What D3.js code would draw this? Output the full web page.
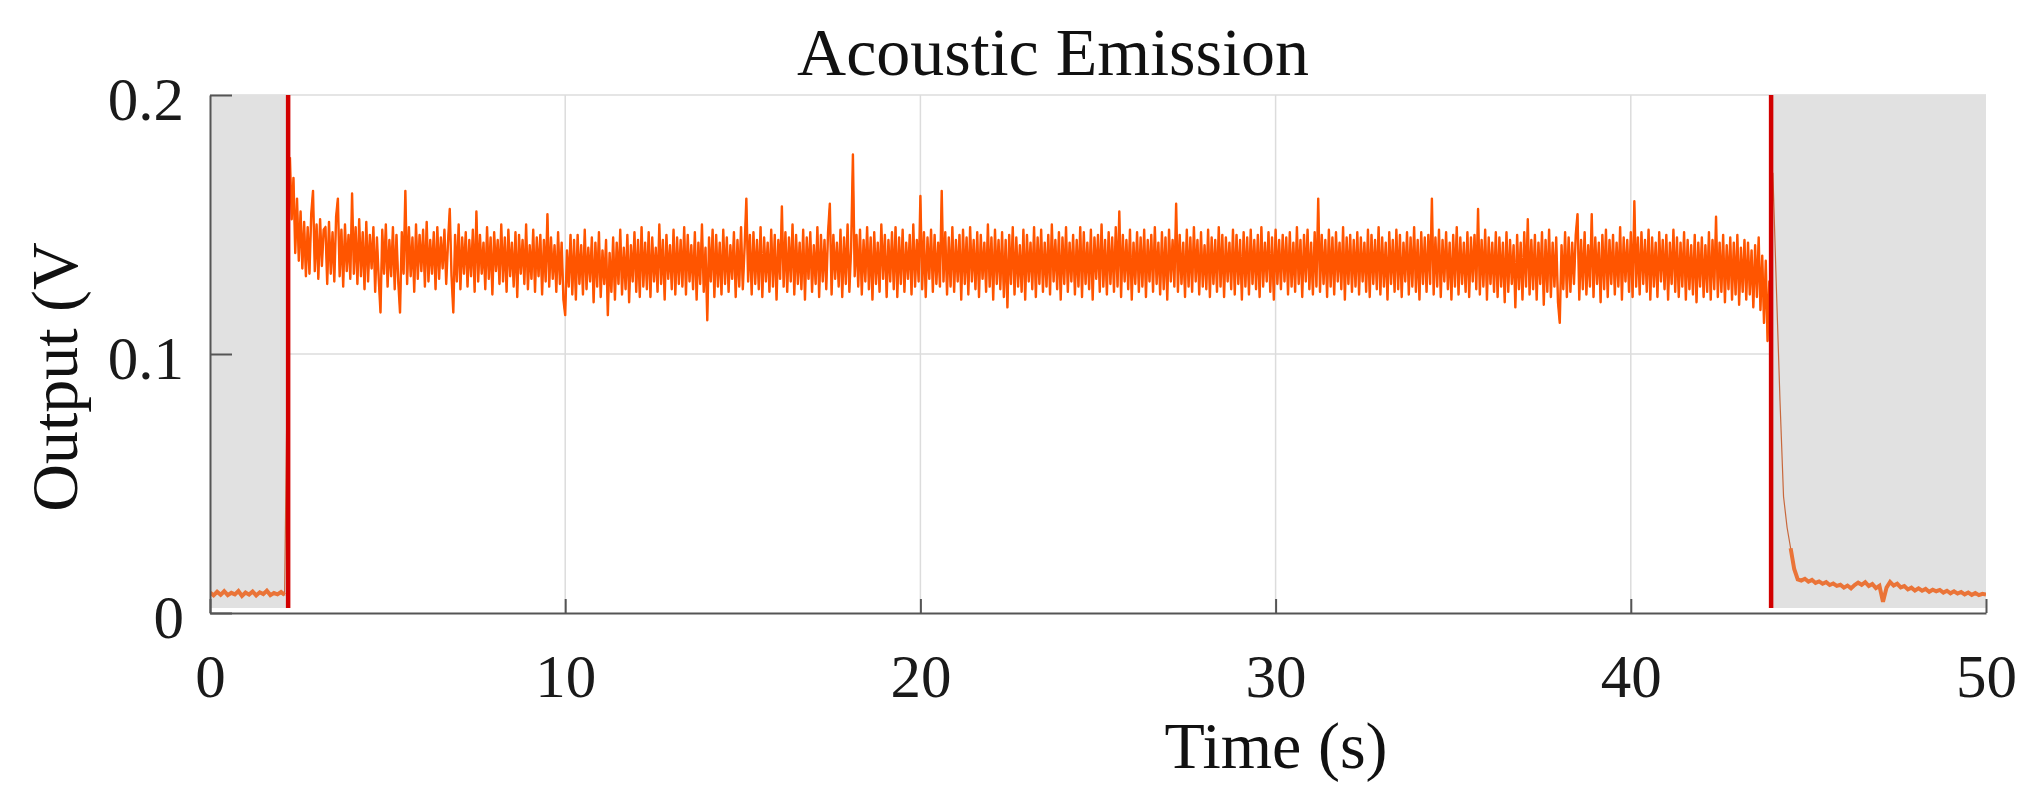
<!DOCTYPE html>
<html><head><meta charset="utf-8">
<script src="https://cdn.jsdelivr.net/npm/d3@7"></script>
<style>html,body{margin:0;padding:0;background:#fff;} svg{display:block;}</style>
</head><body>
<svg id="chart" width="2042" height="810"></svg>
<script>
// ---------------- DATA ----------------
const chartTitle = "Acoustic Emission";
const xAxisTitle = "Time (s)";
const yAxisTitle = "Output (V";
const xTicks = [0, 10, 20, 30, 40, 50];
const xTickLabels = ["0", "10", "20", "30", "40", "50"];
const yTicks = [0, 0.1, 0.2];
const yTickLabels = ["0", "0.1", "0.2"];
const xDomain = [0, 50];
const yDomain = [0, 0.2];
const shadedIntervalsS = [[0, 2.2], [43.95, 50]];
const eventMarkersS = [2.2, 43.95];

// before cutting starts: t = 0 .. 2.1 s, every 0.1 s (mV)
const preOnsetStartS = 0, preOnsetStepS = 0.1;
const preOnsetMilliV = [7.9,6.8,8.2,7.0,8.4,6.9,7.8,7.2,8.5,6.6,7.9,7.1,8.3,6.8,8.0,7.3,8.6,6.9,7.7,7.2,8.1,7.0];

// during cutting: t = 2.25 .. 43.95 s, every 0.05 s (mV)
const cuttingStartS = 2.25, cuttingStepS = 0.05;
const cuttingMilliV = [
176,152,168,139,160,136,155,133,151,130,149,131,154,163,132,150,129,152,134,148,
149,127,151,131,147,128,153,160,130,148,126,150,132,146,129,162,131,149,127,152,
130,147,125,151,128,146,133,149,124,145,129,116,148,131,150,126,144,130,149,125,
146,128,116,147,131,163,127,149,130,145,124,150,129,146,132,148,126,151,128,144,
131,147,125,149,129,145,133,148,127,143,156,130,116,146,128,150,125,145,131,147,
126,144,130,148,124,155,128,146,131,143,125,149,129,145,123,147,132,144,127,150,
128,145,124,148,130,143,126,147,122,146,131,144,127,150,125,142,129,148,124,145,
130,146,123,144,128,154,126,145,129,142,124,147,127,143,121,115,140,126,146,123,
144,121,146,127,142,123,148,125,141,128,145,120,143,126,147,122,140,127,144,115,
139,124,145,121,143,127,148,123,141,125,146,120,142,128,147,124,144,122,149,126,
143,125,147,122,145,128,141,124,150,127,144,121,146,129,142,125,148,123,145,127,
144,126,149,123,146,128,142,125,147,121,143,127,150,124,141,113,145,128,148,122,
146,126,143,123,148,127,145,124,142,129,147,122,144,126,149,125,141,160,128,146,
123,147,127,144,125,149,122,145,128,143,124,148,126,146,121,144,129,157,126,147,
124,145,128,150,123,146,127,143,125,148,121,145,129,147,124,142,127,149,122,146,
128,144,125,147,158,123,146,129,143,126,148,122,145,127,150,124,141,177,130,146,
126,148,123,144,128,149,125,145,121,147,127,143,124,150,129,146,122,144,128,147,
125,149,122,145,127,148,124,143,129,146,123,150,126,144,128,161,125,147,122,145,
129,148,124,146,127,143,126,163,128,147,123,145,126,149,124,144,128,146,121,148,
127,145,123,149,128,144,125,147,122,146,129,143,124,150,126,145,121,148,127,144,
125,147,122,144,118,146,127,149,123,145,126,142,124,148,121,146,128,143,125,149,
122,145,127,148,124,143,126,146,123,150,128,144,125,147,121,145,127,149,124,143,
128,146,123,144,126,149,122,147,127,143,125,148,121,145,129,146,124,150,126,144,
123,147,127,145,124,149,126,155,122,146,128,144,125,148,121,143,127,147,124,145,
126,148,122,144,128,146,124,149,127,143,123,147,125,145,121,148,128,144,126,158,
124,146,127,143,122,148,126,145,124,149,128,144,123,147,126,142,125,148,122,145,
127,144,124,149,126,146,122,145,128,143,125,148,123,146,127,144,121,147,126,145,
123,148,127,144,125,146,122,149,126,143,128,147,124,145,121,148,127,144,125,146,
128,145,123,147,126,143,124,149,127,144,122,146,128,148,125,143,123,147,126,160,
124,146,127,144,122,148,126,145,123,147,128,143,125,149,121,145,127,146,124,144,
126,147,123,145,128,143,124,148,122,146,127,144,125,149,123,145,126,143,121,147,
127,144,124,148,125,146,122,143,128,147,123,145,126,149,124,144,121,147,127,145,
124,146,127,160,123,145,126,148,122,144,128,147,125,143,121,146,126,149,123,145,
127,143,124,147,122,145,128,146,125,156,123,144,126,148,121,145,127,143,124,147,
122,145,126,143,120,147,124,144,127,142,118,146,125,143,121,147,126,152,123,144,
125,146,121,143,127,147,119,144,124,148,122,143,126,145,120,112,142,125,147,122,
145,124,143,127,146,154,121,144,125,147,123,142,126,154,122,145,127,143,120,146,
125,148,122,144,127,146,123,143,126,149,121,145,128,144,124,147,122,159,126,145,
123,147,127,144,124,148,121,145,126,143,122,147,128,144,125,146,121,143,127,148,
124,145,122,143,126,147,121,144,125,142,123,146,120,143,126,145,122,142,124,147,
121,144,125,153,122,143,124,146,120,142,125,145,121,143,123,146,119,141,124,144,
121,143,123,140,118,142,122,145,117,138,112,136,105,128,119
];

// after cutting: t = 44.0 .. 50.0 s, every 0.1 s (mV)
const postCutStartS = 44.0, postCutStepS = 0.1;
const postCutMilliV = [
170,125,82,45,33,25,17,13,12.5,13.2,
12.1,12.8,11.6,12.2,11.3,11.9,10.8,11.4,10.5,10.9,
9.8,10.6,9.5,10.8,11.7,10.9,11.9,10.4,11.2,9.6,
10.5,4.3,9.8,12.0,10.6,11.3,9.9,10.4,9.1,9.8,
8.7,9.5,8.6,9.3,8.2,9.0,8.4,8.9,7.9,8.6,
7.6,8.4,7.5,8.1,7.2,7.9,7.0,7.7,6.9,7.4,7.1
];

// ---------------- DRAWING ----------------
const svg = d3.select("#chart");
const W = 2042, H = 810;
const plot = {left: 210, right: 1986, top: 95, bottom: 613};
const fontFamily = "'Liberation Serif', 'Times New Roman', serif";

const x = d3.scaleLinear().domain(xDomain).range([plot.left, plot.right]);
const y = d3.scaleLinear().domain(yDomain).range([plot.bottom, plot.top]);

svg.append("rect").attr("width", W).attr("height", H).attr("fill", "#fff");

svg.append("defs").append("clipPath").attr("id", "plotClip")
  .append("rect").attr("x", plot.left).attr("y", plot.top)
  .attr("width", plot.right - plot.left).attr("height", plot.bottom - plot.top);

// gridlines
const grid = svg.append("g");
grid.selectAll("line.gx").data(xTicks.slice(1, -1)).enter().append("line")
  .attr("x1", d => x(d)).attr("x2", d => x(d))
  .attr("y1", plot.top).attr("y2", plot.bottom)
  .attr("stroke", "#dcdcdc").attr("stroke-width", 1.5);
grid.selectAll("line.gy").data(yTicks.slice(1)).enter().append("line")
  .attr("x1", plot.left).attr("x2", plot.right)
  .attr("y1", d => y(d)).attr("y2", d => y(d))
  .attr("stroke", "#dcdcdc").attr("stroke-width", 1.5);

// shaded (idle) intervals
svg.append("g").selectAll("rect").data(shadedIntervalsS).enter().append("rect")
  .attr("x", d => x(d[0])).attr("width", d => x(d[1]) - x(d[0]))
  .attr("y", plot.top).attr("height", plot.bottom - plot.top - 5)
  .attr("fill", "#e1e1e1");

// build series
const toPoints = (start, step, arr) => arr.map((v, i) => ({t: start + i * step, v: v / 1000}));
const prePts = toPoints(preOnsetStartS, preOnsetStepS, preOnsetMilliV);
const cutPts = toPoints(cuttingStartS, cuttingStepS, cuttingMilliV);
const postPts = toPoints(postCutStartS, postCutStepS, postCutMilliV);
const allPts = prePts.concat(cutPts, postPts);

const line = d3.line().x(d => x(d.t)).y(d => y(d.v));
const dataG = svg.append("g").attr("clip-path", "url(#plotClip)");
dataG.append("path").datum(allPts).attr("d", line)
  .attr("fill", "none").attr("stroke", "#c8683c").attr("stroke-width", 1.2);
dataG.append("path").datum(cutPts).attr("d", line)
  .attr("fill", "none").attr("stroke", "#ff5500").attr("stroke-width", 2.4)
  .attr("stroke-linejoin", "round");
dataG.append("path").datum(prePts).attr("d", line)
  .attr("fill", "none").attr("stroke", "#ea7438").attr("stroke-width", 4);
dataG.append("path").datum(postPts.slice(5)).attr("d", line)
  .attr("fill", "none").attr("stroke", "#ea7438").attr("stroke-width", 4);

// event markers (red lines)
svg.append("g").selectAll("line").data(eventMarkersS).enter().append("line")
  .attr("x1", d => x(d)).attr("x2", d => x(d))
  .attr("y1", plot.top).attr("y2", plot.bottom - 5)
  .attr("stroke", "#d20000").attr("stroke-width", 4.5);

// axes
const xAxis = d3.axisBottom(x).tickValues(xTicks)
  .tickFormat((d, i) => xTickLabels[i]).tickSizeInner(-14).tickSizeOuter(0);
const gx = svg.append("g").attr("transform", `translate(0,${plot.bottom})`).call(xAxis);
gx.select(".domain").attr("stroke", "#555").attr("stroke-width", 2);
gx.selectAll(".tick line").attr("stroke", "#555").attr("stroke-width", 2);
gx.selectAll(".tick text").attr("y", 84).attr("dy", 0)
  .attr("font-family", fontFamily).attr("font-size", 61).attr("fill", "#1a1a1a");

const yAxis = d3.axisLeft(y).tickValues(yTicks)
  .tickFormat((d, i) => yTickLabels[i]).tickSizeInner(-22).tickSizeOuter(0);
const gy = svg.append("g").attr("transform", `translate(${plot.left},0)`).call(yAxis);
gy.select(".domain").attr("stroke", "#555").attr("stroke-width", 2);
gy.selectAll(".tick line").attr("stroke", "#555").attr("stroke-width", 2);
gy.selectAll(".tick text").attr("x", -26).attr("dy", 24)
  .attr("font-family", fontFamily).attr("font-size", 61).attr("fill", "#1a1a1a");

// titles
svg.append("text").attr("x", 1053).attr("y", 75).attr("text-anchor", "middle")
  .attr("font-family", fontFamily).attr("font-size", 68).attr("fill", "#111")
  .text(chartTitle);
svg.append("text").attr("x", 1276).attr("y", 768).attr("text-anchor", "middle")
  .attr("font-family", fontFamily).attr("font-size", 66).attr("fill", "#111")
  .text(xAxisTitle);
svg.append("text").attr("transform", "translate(77,377) rotate(-90)")
  .attr("text-anchor", "middle")
  .attr("font-family", fontFamily).attr("font-size", 66).attr("fill", "#111")
  .text(yAxisTitle);
</script>
</body></html>
